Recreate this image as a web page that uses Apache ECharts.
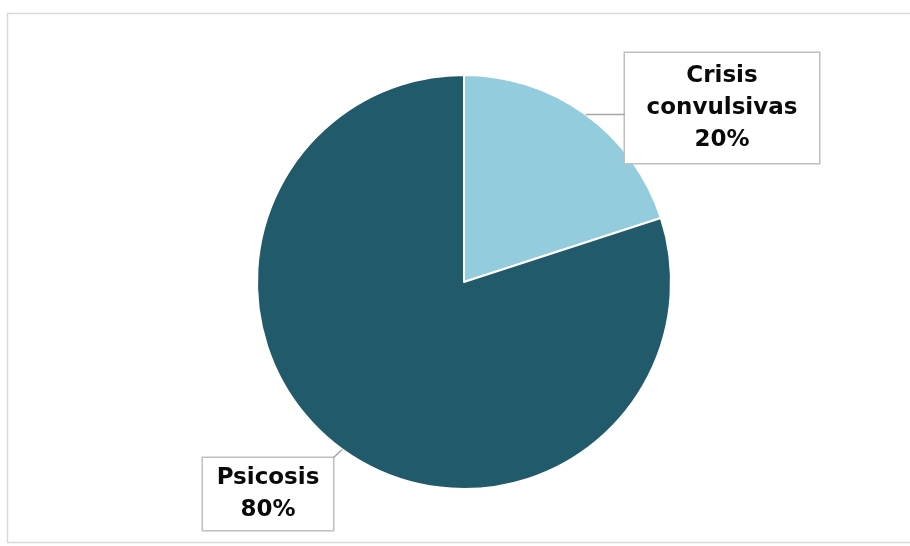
<!DOCTYPE html>
<html>
<head>
<meta charset="utf-8">
<script src="https://cdn.jsdelivr.net/npm/echarts@6/dist/echarts.min.js"></script>
<style>
html,body{margin:0;padding:0;background:#fff;}
#main{width:910px;height:546px;}
</style>
</head>
<body>
<div id="main"></div>
<script>
const categories = ['Crisis convulsivas', 'Psicosis'];
const labelNames = ['Crisis\nconvulsivas', 'Psicosis'];
const values = [20, 80];
const percentLabels = ['20%', '80%'];

const colors = ['#93CDDD', '#215A6A'];
const pieCenter = [464, 282];
const pieRadius = 207;
const labelPlacement = [
  {x: 722, y: 108, width: 194, height: 96, padding: [10, 0, 4, 0]},
  {x: 268, y: 494, width: 130, height: 64, padding: [7, 0, 1, 0]}
];

const chart = echarts.init(document.getElementById('main'), null, {renderer: 'canvas'});

const data = categories.map((c, i) => ({
  name: c,
  value: values[i],
  itemStyle: {color: colors[i]},
  label: {
    formatter: labelNames[i] + '\n' + percentLabels[i],
    width: labelPlacement[i].width,
    height: labelPlacement[i].height,
    padding: labelPlacement[i].padding
  }
}));

// leader lines: from slice mid-angle point on the rim to nearest point of label box
const total = values.reduce((a, b) => a + b, 0);
let cum = 0;
const leaderLines = values.map((v, i) => {
  const midFrac = (cum + v / 2) / total;
  cum += v;
  const ang = (90 - 360 * midFrac) * Math.PI / 180;
  const ax = pieCenter[0] + pieRadius * Math.cos(ang);
  const ay = pieCenter[1] - pieRadius * Math.sin(ang);
  const p = labelPlacement[i];
  const hw = p.width / 2;
  const hh = (p.height + p.padding[0] + p.padding[2]) / 2;
  const bx = Math.min(Math.max(ax, p.x - hw), p.x + hw);
  const by = Math.min(Math.max(ay, p.y - hh), p.y + hh);
  return {
    type: 'line',
    shape: {x1: ax, y1: ay, x2: bx, y2: by},
    style: {stroke: '#a6a6a6', lineWidth: 1.5},
    silent: true,
    z: 5
  };
});

chart.setOption({
  animation: false,
  backgroundColor: '#ffffff',
  graphic: [{
    type: 'rect',
    shape: {x: 7.5, y: 13.5, width: 905, height: 529},
    style: {fill: 'none', stroke: '#d9d9d9', lineWidth: 1.5},
    silent: true,
    z: -10
  }].concat(leaderLines),
  series: [{
    type: 'pie',
    center: pieCenter,
    radius: [0, pieRadius],
    startAngle: 90,
    clockwise: true,
    data: data,
    itemStyle: {borderColor: '#ffffff', borderWidth: 2},
    label: {
      show: true,
      position: 'outside',
      fontFamily: 'DejaVu Sans, Arial, sans-serif',
      fontWeight: 'bold',
      fontSize: 23,
      lineHeight: 32,
      color: '#0a0a0a',
      backgroundColor: '#ffffff',
      borderColor: '#bfbfbf',
      borderWidth: 1.5,
      align: 'center',
      verticalAlign: 'middle'
    },
    labelLine: {show: false},
    labelLayout: function (params) {
      const p = labelPlacement[params.dataIndex];
      return {x: p.x, y: p.y, align: 'center', verticalAlign: 'middle'};
    },
    emphasis: {disabled: true}
  }]
});
</script>
</body>
</html>
